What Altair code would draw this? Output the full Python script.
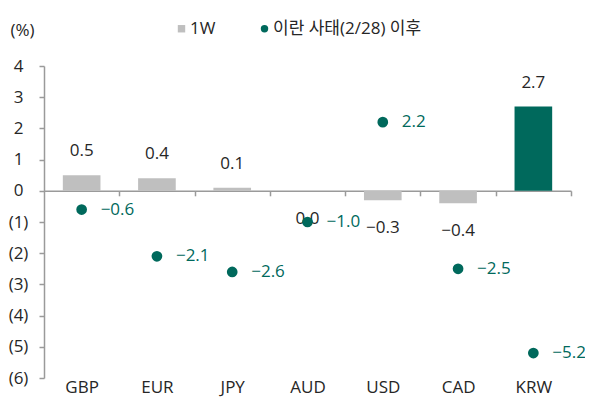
import altair as alt
import pandas as pd

currencies = ["GBP", "EUR", "JPY", "AUD", "USD", "CAD", "KRW"]
week1 = [0.5, 0.4, 0.1, 0.0, -0.3, -0.4, 2.7]
since_iran = [-0.6, -2.1, -2.6, -1.0, 2.2, -2.5, -5.2]
series_names = ["1W", "이란 사태(2/28) 이후"]
y_ticks = [-6, -5, -4, -3, -2, -1, 0, 1, 2, 3, 4]
y_domain = [-6, 4]

df = pd.DataFrame({"cur": currencies, "w1": week1, "since": since_iran})

GRAY = "#bfbfbf"
TEAL = "#00695c"
AX = "#9a9a9a"
TXT = "#262626"
FONT = "Open Sans, Noto Sans CJK KR"
FS = 17
W, H = 527, 312
step = W / len(currencies)
zero_from_bottom = H * (0 - y_domain[0]) / (y_domain[1] - y_domain[0])

x_axis = alt.Axis(
    title=None, orient="bottom", offset=-zero_from_bottom,
    domain=True, domainColor=AX, domainWidth=1.5,
    ticks=True, tickSize=5, tickColor=AX, tickWidth=1.5,
    tickOffset=step / 2, labelOffset=-step / 2,
    labelPadding=197, labelBaseline="alphabetic", labelAngle=0, grid=False,
    labelFont=FONT, labelFontSize=FS, labelColor=TXT,
)
x_scale = alt.Scale(paddingInner=0.5, paddingOuter=0.25)

y_axis = alt.Axis(
    values=y_ticks, tickCount=11, grid=False, labelOverlap=False,
    labelExpr="datum.value < 0 ? '(' + abs(datum.value) + ')' : datum.label",
    title="(%)", titleAngle=0, titleAlign="left", titleBaseline="middle",
    titleX=-34, titleY=-36, titleFont=FONT, titleFontSize=FS,
    titleFontWeight="normal", titleColor=TXT,
    domainColor=AX, domainWidth=1.5, tickColor=AX, tickWidth=1.5, tickSize=5,
    labelAlign="center", labelPadding=21, labelFont=FONT, labelFontSize=FS,
    labelColor=TXT,
)
y_scale = alt.Scale(domain=y_domain, nice=False, zero=False)


def xe():
    return alt.X("cur:N", sort=currencies, scale=x_scale, axis=x_axis)


def ye(field):
    return alt.Y(field, type="quantitative", scale=y_scale, axis=y_axis)


legend = alt.Legend(
    orient="none", legendX=129, legendY=-46, direction="horizontal",
    title=None, labelFont=FONT, labelFontSize=FS, labelColor=TXT,
    symbolSize=55, columnPadding=40, symbolStrokeWidth=0, labelOffset=0,
)
color_scale = alt.Scale(domain=series_names, range=[GRAY, TEAL])

base = alt.Chart(df)

bars = base.transform_calculate(series="'1W'").mark_bar().encode(
    x=xe(),
    y=ye("w1"),
    color=alt.condition(
        alt.datum.cur == "KRW", alt.value(TEAL),
        alt.Color("series:N", scale=color_scale, legend=legend),
    ),
)

bar_lbl_pos = base.transform_filter(alt.datum.w1 > 0).mark_text(
    baseline="middle", dy=-24, font=FONT, fontSize=FS, color=TXT
).encode(x=xe(), y=ye("w1"), text=alt.Text("w1:Q", format=".1f"))

bar_lbl_neg = base.transform_filter(alt.datum.w1 <= 0).mark_text(
    baseline="middle", dy=28, font=FONT, fontSize=FS, color=TXT
).encode(x=xe(), y=ye("w1"), text=alt.Text("w1:Q", format=".1f"))

dots = base.transform_calculate(series="'이란 사태(2/28) 이후'").mark_point(
    filled=True, size=115, opacity=1
).encode(
    x=xe(),
    y=ye("since"),
    color=alt.Color("series:N", scale=color_scale, legend=legend),
    shape=alt.Shape("series:N", scale=alt.Scale(domain=series_names, range=["square", "circle"]), legend=legend),
)

dot_lbl = base.mark_text(
    align="left", baseline="middle", dx=19, font=FONT, fontSize=FS, color=TEAL
).encode(x=xe(), y=ye("since"), text=alt.Text("since:Q", format=".1f"))

chart = alt.layer(bars, bar_lbl_pos, bar_lbl_neg, dots, dot_lbl).properties(
    width=W, height=H,
    autosize=alt.AutoSizeParams(type="none"),
    padding={"left": 36, "top": 58, "right": 14, "bottom": 20},
).configure_view(stroke=None)

chart.save("out.html", embed_options={"renderer": "svg", "actions": False})
